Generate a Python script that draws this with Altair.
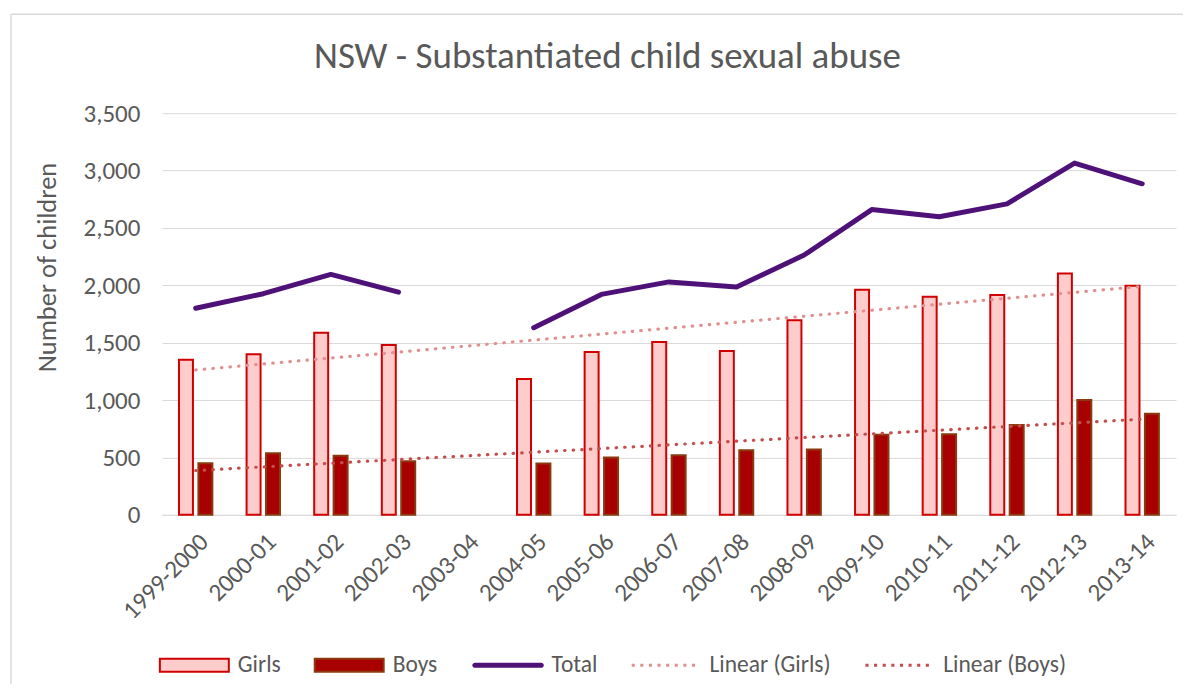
import altair as alt
import pandas as pd
import numpy as np

categories = ["1999-2000", "2000-01", "2001-02", "2002-03", "2003-04", "2004-05",
              "2005-06", "2006-07", "2007-08", "2008-09", "2009-10", "2010-11",
              "2011-12", "2012-13", "2013-14"]
girls = [1352, 1399, 1587, 1480, None, 1184, 1419, 1506, 1428, 1695, 1962, 1901, 1915, 2104, 1997]
boys = [450, 537, 516, 467, None, 447, 499, 520, 563, 569, 699, 702, 783, 1001, 882]
total = [1800, 1927, 2095, 1941, None, 1631, 1921, 2030, 1985, 2264, 2660, 2597, 2710, 3065, 2885]
y_ticks = [0, 500, 1000, 1500, 2000, 2500, 3000, 3500]
legend_items = ["Girls", "Boys", "Total", "Linear (Girls)", "Linear (Boys)"]
title_text = "NSW - Substantiated child sexual abuse"

FONT = "Carlito, Calibri, Lato"
GRAY = "#595959"
GRID = "#D9D9D9"

# long table for grouped bars
rows = []
for c, g, b in zip(categories, girls, boys):
    rows.append({"cat": c, "series": "Girls", "value": g})
    rows.append({"cat": c, "series": "Boys", "value": b})
bars_df = pd.DataFrame(rows)
total_df = pd.DataFrame({"cat": categories, "value": total})


# linear trend lines (Excel style: x = category index 1..n, blanks skipped)
def trend(vals):
    idx = np.array([i + 1 for i, v in enumerate(vals) if v is not None], dtype=float)
    yv = np.array([v for v in vals if v is not None], dtype=float)
    slope, icpt = np.polyfit(idx, yv, 1)
    n = len(vals)
    return [icpt + slope * 1, icpt + slope * n]


tg = trend(girls)
tb = trend(boys)
trend_g_df = pd.DataFrame({"cat": [categories[0], categories[-1]], "value": tg})
trend_b_df = pd.DataFrame({"cat": [categories[0], categories[-1]], "value": tb})

x_scale = alt.Scale(domain=categories, paddingInner=0.506, paddingOuter=0.253)
y_scale = alt.Scale(domain=[0, 3500])

x_axis = alt.Axis(title=None, labelAngle=-45, labelFont=FONT, labelFontSize=25,
                  labelColor=GRAY, ticks=False, domainColor=GRID, domainWidth=1,
                  labelPadding=14, grid=False)
y_axis = alt.Axis(title="Number of children", values=y_ticks, format=",.0f",
                  labelFont=FONT, labelFontSize=25, labelColor=GRAY,
                  titleFont=FONT, titleFontSize=26.5, titleColor=GRAY,
                  titleFontWeight="normal", domain=False, ticks=False,
                  gridColor=GRID, gridWidth=1, labelPadding=22,
                  titleX=-114, titleY=154, titleAlign="center",
                  titleBaseline="middle", titleAngle=-90)

bars = alt.Chart(bars_df).mark_bar(strokeWidth=2).encode(
    x=alt.X("cat:N", scale=x_scale, axis=x_axis, sort=categories),
    xOffset=alt.XOffset("series:N", scale=alt.Scale(domain=["Girls", "Boys"], paddingInner=0.28, paddingOuter=0)),
    y=alt.Y("value:Q", scale=y_scale, axis=y_axis),
    fill=alt.Fill("series:N", scale=alt.Scale(domain=["Girls", "Boys"], range=["#FFCCCC", "#A80000"]), legend=None),
    stroke=alt.Stroke("series:N", scale=alt.Scale(domain=["Girls", "Boys"], range=["#D00000", "#8B3A10"]), legend=None),
)

trend_g = alt.Chart(trend_g_df).mark_line(
    color="#E09090", strokeWidth=3.2, strokeDash=[0.5, 8.1], strokeCap="round"
).encode(x=alt.X("cat:N", scale=x_scale, sort=categories), y=alt.Y("value:Q", scale=y_scale))

trend_b = alt.Chart(trend_b_df).mark_line(
    color="#C44E4E", strokeWidth=3.2, strokeDash=[0.5, 8.1], strokeCap="round"
).encode(x=alt.X("cat:N", scale=x_scale, sort=categories), y=alt.Y("value:Q", scale=y_scale))

total_line = alt.Chart(total_df).mark_line(
    color="#4E1178", strokeWidth=5, strokeCap="round", strokeJoin="round",
    invalid="break-paths-show-domains"
).encode(x=alt.X("cat:N", scale=x_scale, sort=categories), y=alt.Y("value:Q", scale=y_scale))

# legend-only layer (symbols drawn as custom paths)
rect_path = "M-1,-0.19H1V0.19H-1Z"
line_path = "M-0.96,-0.075H0.96A0.075,0.075 0 0 1 0.96,0.075H-0.96A0.075,0.075 0 0 1 -0.96,-0.075Z"
dots = "".join(
    f"M{-0.95 + k * 0.25 - 0.045:.3f},-0.045h0.09v0.09h-0.09Z" for k in range(8)
)
legend_df = pd.DataFrame({"series": legend_items})
legend_layer = alt.Chart(legend_df).mark_point(opacity=1, strokeWidth=2).encode(
    shape=alt.Shape("series:N", scale=alt.Scale(domain=legend_items,
                    range=[rect_path, rect_path, line_path, dots, dots]),
                    legend=alt.Legend(title=None)),
    fill=alt.Fill("series:N", scale=alt.Scale(domain=legend_items,
                  range=["#FFCCCC", "#A80000", "#4E1178", "#E09090", "#C44E4E"]),
                  legend=alt.Legend(title=None)),
    stroke=alt.Stroke("series:N", scale=alt.Scale(domain=legend_items,
                      range=["#D00000", "#8B3A10", "transparent", "transparent", "transparent"]),
                      legend=alt.Legend(title=None)),
).transform_filter("false")

frame_src = pd.DataFrame({"k": [0]})
frame_top = alt.Chart(frame_src).mark_rule(color=GRID, strokeWidth=1.5).encode(
    x=alt.value(-151), x2=alt.value(1022), y=alt.value(-99))
frame_left = alt.Chart(frame_src).mark_rule(color=GRID, strokeWidth=1.5).encode(
    x=alt.value(-151), y=alt.value(-99), y2=alt.value(571))

title_df = pd.DataFrame({"t": [title_text]})
title_layer = alt.Chart(title_df).mark_text(
    font=FONT, fontSize=37, color=GRAY, align="center", baseline="alphabetic"
).encode(text="t:N", x=alt.value(446), y=alt.value(-45))

chart = alt.layer(
    frame_top, frame_left, title_layer, bars, trend_g, trend_b, total_line, legend_layer
).resolve_scale(
    fill="independent", stroke="independent", shape="independent"
).properties(
    width=1015, height=402,
    padding={"left": 2, "top": 5, "right": 0, "bottom": 0},
).configure_view(stroke=None).configure_legend(
    orient="none", legendX=-3, legendY=517, direction="horizontal",
    symbolSize=4761, symbolStrokeWidth=2, symbolOpacity=1,
    labelFont=FONT, labelFontSize=23.5, labelColor=GRAY, labelOffset=8,
    columnPadding=30, columns=5,
)

chart.save("out.html", embed_options={"renderer": "svg", "actions": False})
